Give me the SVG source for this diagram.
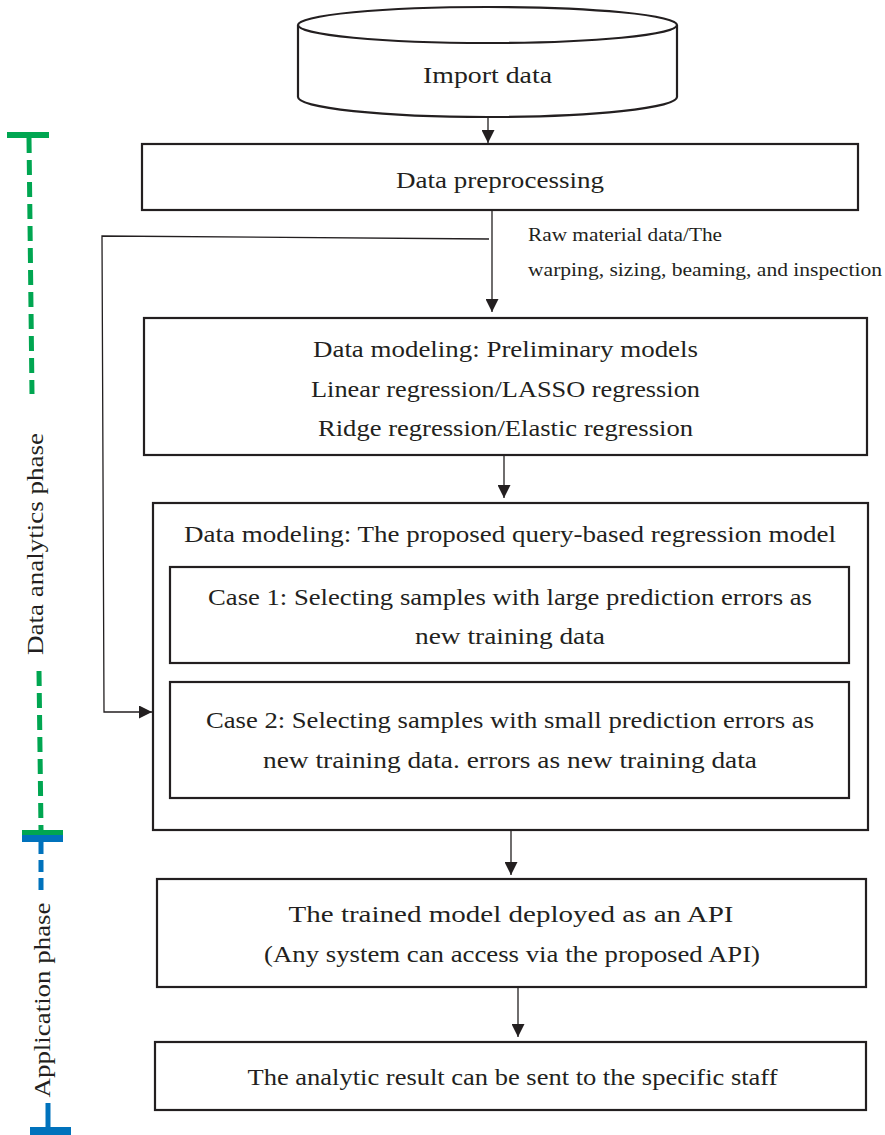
<svg xmlns="http://www.w3.org/2000/svg" width="885" height="1135" viewBox="0 0 885 1135">
  <style>
    .box { fill: #ffffff; stroke: #231f20; stroke-width: 2.2; }
    .t { font-family: "Liberation Serif", "Times New Roman", serif; font-size: 23.5px; fill: #231f20; text-anchor: middle; }
    .s { font-family: "Liberation Serif", "Times New Roman", serif; font-size: 18.5px; fill: #231f20; }
    .conn { fill: none; stroke: #231f20; stroke-width: 1.3; }
    .green { stroke: #00a651; }
    .blue { stroke: #0072bc; }
    .dash { fill: none; stroke-width: 5; }
  </style>
  <defs>
    <marker id="ah" markerWidth="13" markerHeight="13" refX="13" refY="6.5" orient="auto" markerUnits="userSpaceOnUse">
      <path d="M0,0 L13,6.5 L0,13 z" fill="#231f20"/>
    </marker>
  </defs>
  <rect width="885" height="1135" fill="#ffffff"/>

  <!-- phase bars on the left -->
  <g id="phase-analytics">
    <rect x="7" y="132" width="42" height="6" fill="#00a651"/>
    <line class="dash green" x1="29" y1="138" x2="32" y2="394" stroke-dasharray="15 7"/>
    <line class="dash green" x1="39" y1="671" x2="41" y2="830" stroke-dasharray="15 7"/>
    <rect x="22" y="830" width="41" height="5" fill="#00a651"/>
    <text class="t" transform="translate(43,544) rotate(-90)" textLength="222" lengthAdjust="spacingAndGlyphs">Data analytics phase</text>
  </g>
  <g id="phase-application">
    <rect x="22" y="835" width="41" height="7" fill="#0072bc"/>
    <line class="dash blue" x1="41" y1="842" x2="41" y2="896" stroke-dasharray="12 6"/>
    <line class="dash blue" x1="48" y1="1103" x2="48" y2="1128"/>
    <rect x="30" y="1127" width="41" height="8" fill="#0072bc"/>
    <text class="t" transform="translate(50,1000) rotate(-90)" textLength="195" lengthAdjust="spacingAndGlyphs">Application phase</text>
  </g>

  <!-- connectors -->
  <g id="connectors">
    <line class="conn" x1="488" y1="117" x2="488" y2="143" marker-end="url(#ah)"/>
    <line class="conn" x1="492" y1="211" x2="492" y2="312" marker-end="url(#ah)"/>
    <polyline class="conn" points="489,239 102,236 104,712 152,712" marker-end="url(#ah)"/>
    <line class="conn" x1="504" y1="455" x2="504" y2="498" marker-end="url(#ah)"/>
    <line class="conn" x1="511" y1="831" x2="511" y2="875" marker-end="url(#ah)"/>
    <line class="conn" x1="518" y1="988" x2="518" y2="1037" marker-end="url(#ah)"/>
    <text class="s" x="528" y="241" textLength="194" lengthAdjust="spacingAndGlyphs">Raw material data/The</text>
    <text class="s" x="528" y="276" textLength="354" lengthAdjust="spacingAndGlyphs">warping, sizing, beaming, and inspection</text>
  </g>

  <g id="import-data">
    <path class="box" d="M298,25 L298,97 A189.5,20 0 0 0 677,97 L677,25"/>
    <ellipse class="box" cx="487.5" cy="25" rx="189.5" ry="18"/>
    <text class="t" x="487.5" y="83" textLength="129" lengthAdjust="spacingAndGlyphs">Import data</text>
  </g>

  <g id="data-preprocessing">
    <rect class="box" x="142" y="144" width="716" height="66"/>
    <text class="t" x="500" y="188" textLength="208" lengthAdjust="spacingAndGlyphs">Data preprocessing</text>
  </g>

  <g id="preliminary-models">
    <rect class="box" x="144" y="318" width="723" height="137"/>
    <text class="t" x="505.5" y="357" textLength="385" lengthAdjust="spacingAndGlyphs">Data modeling: Preliminary models</text>
    <text class="t" x="505.5" y="397" textLength="389" lengthAdjust="spacingAndGlyphs">Linear regression/LASSO regression</text>
    <text class="t" x="505.5" y="436" textLength="375" lengthAdjust="spacingAndGlyphs">Ridge regression/Elastic regression</text>
  </g>

  <g id="query-based-model">
    <rect class="box" x="153" y="503" width="715" height="327"/>
    <text class="t" x="510" y="542" textLength="652" lengthAdjust="spacingAndGlyphs">Data modeling: The proposed query-based regression model</text>
  </g>

  <g id="case-1">
    <rect class="box" x="170" y="567" width="679" height="96"/>
    <text class="t" x="510" y="605" textLength="604" lengthAdjust="spacingAndGlyphs">Case 1: Selecting samples with large prediction errors as</text>
    <text class="t" x="510" y="644" textLength="190" lengthAdjust="spacingAndGlyphs">new training data</text>
  </g>

  <g id="case-2">
    <rect class="box" x="170" y="682" width="679" height="116"/>
    <text class="t" x="510" y="728" textLength="608" lengthAdjust="spacingAndGlyphs">Case 2: Selecting samples with small prediction errors as</text>
    <text class="t" x="510" y="768" textLength="494" lengthAdjust="spacingAndGlyphs">new training data. errors as new training data</text>
  </g>

  <g id="api-deployment">
    <rect class="box" x="157" y="879" width="709" height="108"/>
    <text class="t" x="511" y="922" textLength="445" lengthAdjust="spacingAndGlyphs">The trained model deployed as an API</text>
    <text class="t" x="512" y="962" textLength="496" lengthAdjust="spacingAndGlyphs">(Any system can access via the proposed API)</text>
  </g>

  <g id="send-result">
    <rect class="box" x="155" y="1042" width="711" height="68"/>
    <text class="t" x="512.5" y="1085" textLength="530" lengthAdjust="spacingAndGlyphs">The analytic result can be sent to the specific staff</text>
  </g>
</svg>
